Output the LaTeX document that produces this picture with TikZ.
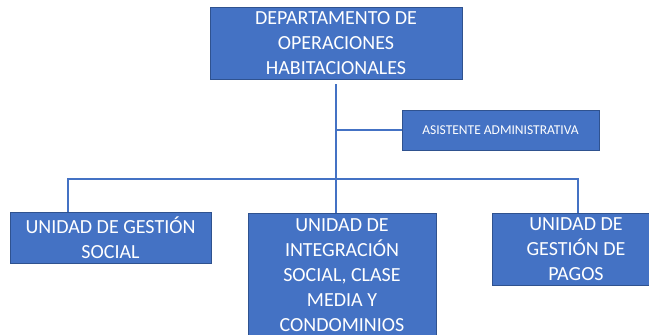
\documentclass[tikz,border=0pt]{standalone}
\usepackage{fontspec}
\setmainfont{Carlito}
\usepackage{tikz}
\usetikzlibrary{positioning}

\definecolor{ofblue}{HTML}{4472C4}
\definecolor{ofedge}{HTML}{2F528F}

\tikzset{
	orgbox/.style={draw=ofedge, fill=ofblue, text=white, line width=0.8pt, inner sep=0pt, align=center, font=\fontsize{20}{25}\selectfont},
	smallbox/.style={orgbox, font=\fontsize{13.5}{16}\selectfont},
	link/.style={draw=ofblue, line width=1.4pt}
}

\begin{document}
\begin{tikzpicture}[x=1pt, y=-1pt]
	\useasboundingbox (0,0) rectangle (649,335);
	\node[orgbox, minimum width=252pt, minimum height=72pt] (dept) at (336,43) {DEPARTAMENTO DE\\OPERACIONES\\HABITACIONALES};
	\node[smallbox, minimum width=197pt, minimum height=40pt] (asist) at (500.5,130) {ASISTENTE ADMINISTRATIVA};
	\node[orgbox, minimum width=201pt, minimum height=51pt] (social) at (110.5,237.5) {UNIDAD DE GESTIÓN\\SOCIAL};
	\node[orgbox, minimum width=188pt, minimum height=124pt] (integ) at (342,275) {UNIDAD DE\\INTEGRACIÓN\\SOCIAL, CLASE\\MEDIA Y\\CONDOMINIOS};
	\node[orgbox, minimum width=168pt, minimum height=72pt] (pagos) at (576,249) {UNIDAD DE\\GESTIÓN DE\\PAGOS};
	\coordinate (lefttop) at (68,179);
	\coordinate (righttop) at (578,179);
	% connectors
	\draw[link, shorten <=5pt] (dept.south) -- (dept.south |- integ.north);
	\draw[link] (dept.south |- asist.west) -- (asist.west);
	\draw[link] (social.north -| lefttop) -- (lefttop) -- (righttop) -- (pagos.north -| righttop);
\end{tikzpicture}
\end{document}
